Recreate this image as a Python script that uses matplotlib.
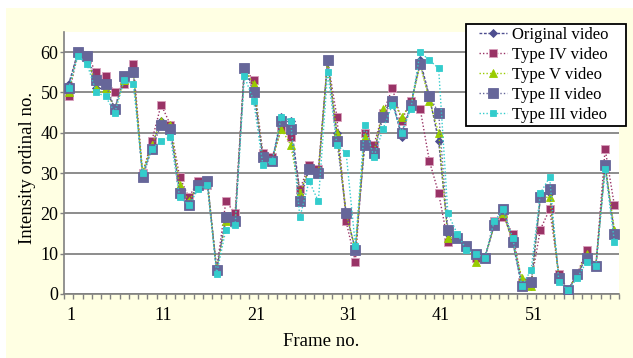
import matplotlib
matplotlib.use("Agg")
import matplotlib.pyplot as plt
from matplotlib.patches import Rectangle
from matplotlib.ticker import FixedLocator, NullFormatter
from matplotlib.transforms import ScaledTranslation
import numpy as np

frames = np.arange(1, 61)

original = [52, 60, 59, 51, 51, 46, 54, 55, 29, 37,
            43, 41, 26, 23, 27, 28, 6, 19, 18, 56,
            51, 34, 33, 44, 43, 25, 31, 30, 58, 40,
            20, 11, 37, 35, 45, 48, 39, 47, 58, 49,
            38, 15, 14, 12, 9, 9, 17, 20, 13, 2,
            2, 24, 25, 4, 1, 5, 9, 7, 32, 15]
type_iv = [49, 60, 59, 55, 54, 50, 52, 57, 30, 38,
           47, 42, 29, 24, 28, 27, 6, 23, 20, 56,
           53, 35, 34, 41, 39, 26, 32, 31, 58, 44,
           18, 8, 40, 37, 45, 51, 43, 48, 46, 33,
           25, 13, 14, 12, 9, 9, 18, 19, 15, 3,
           3, 16, 21, 5, 1, 5, 11, 7, 36, 22]
type_v = [50, 60, 59, 51, 51, 46, 53, 55, 30, 37,
          43, 42, 27, 23, 27, 28, 6, 18, 18, 56,
          52, 34, 33, 41, 37, 25, 31, 30, 58, 40,
          20, 11, 39, 35, 46, 48, 44, 47, 57, 48,
          40, 14, 14, 12, 8, 9, 17, 20, 13, 4,
          2, 24, 24, 4, 1, 5, 10, 7, 32, 16]
type_ii = [51, 60, 59, 53, 52, 46, 54, 55, 29, 36,
           42, 41, 25, 22, 27, 28, 6, 19, 18, 56,
           50, 34, 33, 43, 41, 23, 31, 30, 58, 38,
           20, 11, 37, 35, 44, 48, 40, 47, 57, 49,
           45, 16, 14, 12, 10, 9, 17, 21, 13, 2,
           3, 24, 26, 4, 1, 5, 9, 7, 32, 15]
type_iii = [51, 59, 57, 50, 49, 45, 53, 52, 30, 36,
            38, 39, 24, 22, 26, 27, 5, 16, 17, 54,
            48, 32, 33, 44, 43, 19, 28, 23, 55, 37,
            35, 12, 42, 34, 41, 47, 40, 46, 60, 58,
            56, 20, 15, 11, 10, 9, 18, 21, 14, 2,
            6, 25, 29, 3, 1, 4, 8, 7, 31, 13]

series = [
    ("Original video", original, "#4D4D8F", "D", 4.0, (0, (2, 1.2))),
    ("Type IV video", type_iv, "#993366", "s", 5.5, (0, (1, 1.5))),
    ("Type V video", type_v, "#99CC00", "^", 5.5, (0, (1, 1.5))),
    ("Type II video", type_ii, "#666699", "s", 6.5, (0, (1, 1.5))),
    ("Type III video", type_iii, "#33CCCC", "s", 5.0, (0, (1, 1.5))),
]

plt.rcParams["font.family"] = ["Liberation Serif", "DejaVu Serif"]

fig = plt.figure(figsize=(6.33, 3.58), dpi=100)
fig.patch.set_facecolor("white")
# cream panel behind the chart
fig.patches.append(Rectangle((6 / 633, 0), 1 - 6 / 633, 1 - 8 / 358,
                             transform=fig.transFigure, facecolor="#FFFFE3",
                             edgecolor="none", zorder=-5))

ax = fig.add_axes([64 / 633, 1 - 294 / 358, (619 - 64) / 633, (294 - 32) / 358])
ax.set_facecolor("white")

for name, vals, col, mk, ms, ls in series:
    mec = col
    if name == "Type IV video":
        mec = "#D9A0BC"
    ax.plot(frames, vals, linestyle=ls, color=col, linewidth=1.0,
            marker=mk, markersize=ms, markerfacecolor=col,
            markeredgecolor=mec, markeredgewidth=0.6, label=name, zorder=3)

ax.set_xlim(0.5, 60.5)
ax.set_ylim(0, 65)
ax.set_yticks([0, 10, 20, 30, 40, 50, 60])
ax.yaxis.grid(True, color="#8C8C8C", linewidth=1.4)
ax.set_axisbelow(True)

ax.set_xticks([1, 11, 21, 31, 41, 51])
ax.xaxis.set_minor_locator(FixedLocator(np.arange(0.5, 61, 1)))
ax.xaxis.set_minor_formatter(NullFormatter())
ax.tick_params(axis="x", which="major", length=0, pad=9, labelsize=13)
ax.tick_params(axis="x", which="minor", length=3.5, color="#808080", width=1)
ax.tick_params(axis="y", length=3, color="#808080", width=1, labelsize=13, pad=1)
shift = ScaledTranslation(2.5 / 100, 0, fig.dpi_scale_trans)
for lab in ax.get_xticklabels():
    lab.set_transform(lab.get_transform() + shift)

for s in ["top", "right"]:
    ax.spines[s].set_visible(False)
for s in ["left", "bottom"]:
    ax.spines[s].set_color("#808080")
    ax.spines[s].set_linewidth(1.2)

fig.text(321 / 633, 1 - 342 / 358, "Frame no.", fontsize=13.5,
         ha="center", va="center")
fig.text(28 / 633, 1 - 168 / 358, "Intensity ordinal no.", fontsize=13.5,
         ha="center", va="center", rotation=90)

# legend box drawn separately so its padding can match
box = Rectangle((466 / 633, 1 - 126 / 358), 160 / 633, 102 / 358,
                transform=fig.transFigure, facecolor="white",
                edgecolor="black", linewidth=1.3, zorder=4)
fig.patches.append(box)
leg = fig.legend(loc="upper left", bbox_to_anchor=(479 / 633, 1 - 27 / 358),
                 fontsize=12, frameon=False, borderpad=0,
                 labelspacing=0.24, handlelength=1.65,
                 handletextpad=0.35, borderaxespad=0)
leg.set_zorder(5)

fig.savefig("out.png", dpi=100)
